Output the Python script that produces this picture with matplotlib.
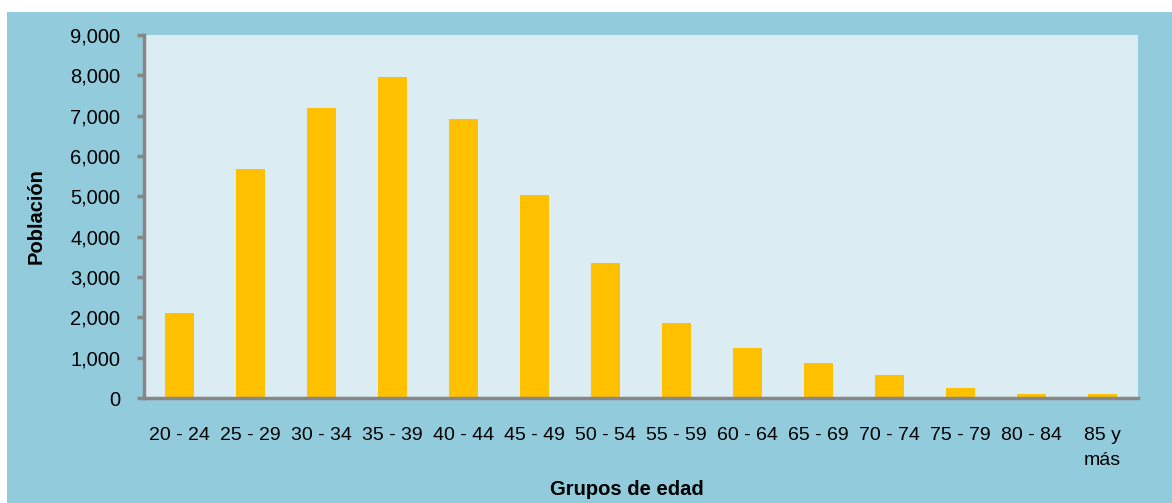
import matplotlib
matplotlib.use("Agg")
import matplotlib.pyplot as plt
from matplotlib.patches import Rectangle
from matplotlib.ticker import FuncFormatter

# ---------------- DATA ----------------

grupos = ["20 - 24", "25 - 29", "30 - 34", "35 - 39", "40 - 44", "45 - 49", "50 - 54",
          "55 - 59", "60 - 64", "65 - 69", "70 - 74", "75 - 79", "80 - 84", "85 y\nmás"]
poblacion = [2110, 5690, 7200, 7960, 6920, 5030, 3340, 1860, 1240, 870, 570, 250, 100, 100]

# ---------------- STYLE ----------------

OUTER_BG = "#92CBDC"
PLOT_BG = "#DBEDF3"
BAR_COLOR = "#FFC000"
AXIS_COLOR = "#878787"

plt.rcParams["font.family"] = ["Liberation Sans", "DejaVu Sans"]

fig = plt.figure(figsize=(11.72, 5.03), dpi=100, facecolor="white")
fig.add_artist(Rectangle((7 / 1172, 0), 1 - 7 / 1172, 1 - 12 / 503,
                         transform=fig.transFigure, facecolor=OUTER_BG,
                         edgecolor="none", zorder=-5))

ax = fig.add_axes([144 / 1172, 1 - 398 / 503, 994 / 1172, 363 / 503])
ax.set_facecolor(PLOT_BG)

x = range(len(grupos))
ax.bar(x, poblacion, width=0.41, color=BAR_COLOR, zorder=2)

ax.set_xlim(-0.5, len(grupos) - 0.5)
ax.set_ylim(0, 9000)
ax.set_yticks(range(0, 9001, 1000))
ax.yaxis.set_major_formatter(FuncFormatter(lambda v, p: f"{int(v):,}"))
ax.set_xticks(list(x))
ax.set_xticklabels(grupos, linespacing=1.6)

for side in ["top", "right"]:
    ax.spines[side].set_visible(False)
for side in ["left", "bottom"]:
    ax.spines[side].set_color(AXIS_COLOR)
    ax.spines[side].set_linewidth(2.5)

ax.tick_params(axis="y", length=5, width=2.5, color=AXIS_COLOR, labelsize=14.5, pad=12)
ax.tick_params(axis="x", length=0, labelsize=14, pad=21)

ax.set_xlabel("Grupos de edad", fontsize=14.5, fontweight="bold", labelpad=5)
ax.xaxis.set_label_coords(0.486, -0.225)
ax.set_ylabel("Población", fontsize=14.5, fontweight="bold", labelpad=18)

fig.savefig("out.png", dpi=100, facecolor=fig.get_facecolor())
